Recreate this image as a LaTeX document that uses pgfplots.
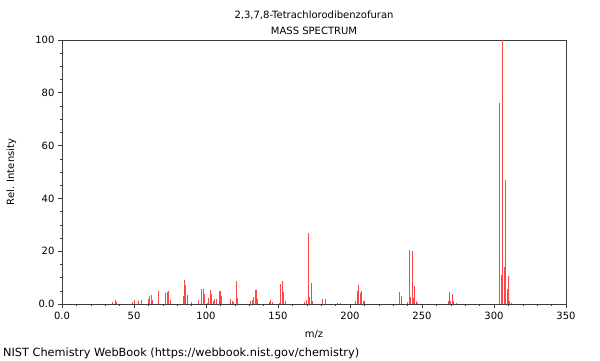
\documentclass[border=0pt]{standalone}
\usepackage{fontspec}
\setmainfont{DejaVu Sans}
\usepackage{pgfplots}
\pgfplotsset{compat=1.18}
\definecolor{specred}{RGB}{255,70,70}
\definecolor{axgray}{RGB}{60,60,60}
\begin{document}
\fontsize{10bp}{12bp}\selectfont
\begin{tikzpicture}[x=1bp,y=1bp]
\path[use as bounding box] (0,0) rectangle (600,360);
\begin{axis}[
  at={(62bp,56bp)}, anchor=south west,
  scale only axis, width=504bp, height=264bp,
  xmin=0, xmax=350, ymin=0, ymax=100,
  xtick={0,50,...,350}, xticklabels={0.0,50,100,150,200,250,300,350},
  ytick={0,20,...,100}, yticklabels={0.0,20,40,60,80,100},
  minor x tick num=4, minor y tick num=3,
  tick pos=left, tick align=outside,
  major tick length=4bp, minor tick length=2bp,
  every tick/.style={axgray, line width=0.6bp},
  axis line style={axgray, line width=0.8bp},
  /pgf/number format/assume math mode=true,
  tick label style={font=\fontsize{10bp}{12bp}\selectfont, text=black},
  xticklabel style={yshift=-1bp},
  clip=true,
]
\addplot[ycomb, specred, line width=0.8bp, mark=none] coordinates {
(35,0.6) (37,1.4) (38,0.7) (49,0.7) (50,1.6) (53,1.1) (55,1.5)
(60,1.8) (61,3.2) (62,3.5) (63,1.5) (67,4.9) (72,4.3) (73,4.4) (74,4.8) (75,1.5)
(84,3.2) (85,9.2) (86,7.3) (87,3.5) (90,0.6) (95,1.5) (97,5.7) (98,5.6) (99,3.9)
(101,0.3) (102,2.4) (103,5.3) (104,3.7) (105,1.0) (106,2.0) (107,2.0)
(109,4.9) (110,5.1) (111,3.0) (117,2.0) (118,1.3) (119,0.7) (121,8.6) (122,2.3)
(131,1.3) (132,1.5) (133,2.8) (134,5.3) (135,5.3) (136,1.8)
(144,0.6) (145,1.6) (146,0.8) (151,0.5) (152,7.6) (153,8.8) (154,4.6) (155,1.3)
(168,0.8) (170,1.5) (171,27.0) (172,2.8) (173,8.1) (174,1.1)
(181,1.8) (183,1.8) (191,0.5) (193,0.5)
(204,1.0) (205,4.9) (206,7.2) (207,4.3) (208,4.9) (209,1.0) (210,1.0)
(234,4.5) (236,3.0) (240,0.8) (241,20.4) (242,2.8) (243,20.1) (244,2.2) (245,6.8) (246,1.2) (247,0.5)
(268,1.0) (269,4.5) (270,1.2) (271,3.7) (272,1.0) (274,0.3)
(304,76.3) (305,11.0) (306,100) (307,14.0) (308,47.0) (309,5.5) (310,10.7) (311,1.0) (312,0.5)
};
\end{axis}
\node[anchor=base] at (314,342) {2,3,7,8-Tetrachlorodibenzofuran};
\node[anchor=base] at (314,326) {MASS SPECTRUM};
\node[anchor=base] at (314,23) {m/z};
\node[rotate=90, anchor=base] at (14,188) {Rel. Intensity};
\node[anchor=base west, inner sep=0pt, font=\fontsize{11.3bp}{13bp}\selectfont] at (3,4) {NIST Chemistry WebBook (https://webbook.nist.gov/chemistry)};
\end{tikzpicture}
\end{document}
